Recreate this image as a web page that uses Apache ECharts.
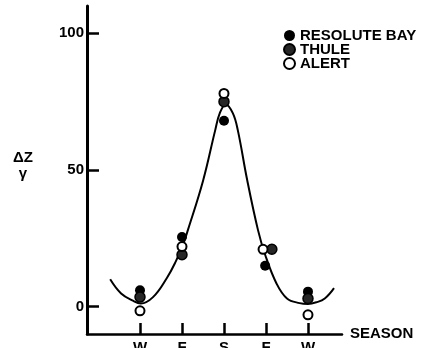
<!DOCTYPE html>
<html>
<head>
<meta charset="utf-8">
<script src="https://cdn.jsdelivr.net/npm/echarts@6/dist/echarts.min.js"></script>
<style>
html,body{margin:0;padding:0;background:#fff;}
#chart{width:421px;height:348px;}
</style>
</head>
<body>
<div id="chart"></div>
<script>
// Season positions and tick labels
var seasonPositions = [0, 1, 2, 3, 4];
var seasonLabels = ['W', 'F', 'S', 'F', 'W'];
var yTickValues = [0, 50, 100];

// Observations [season position, ΔZ/γ]
var resoluteBay = [[0, 6], [1, 25.5], [2, 68], [2.98, 15], [4, 5.5]];
var thule = [[0, 3.5], [1, 19], [2, 75], [3.14, 21], [4, 3]];
var alert = [[0, -1.5], [1, 22], [2, 78], [2.93, 21], [4, -3]];

// Fitted curve, points
var curve = [
  [-0.71, 10], [-0.45, 4.8], [-0.17, 2.2], [0.02, 1.2], [0.31, 3.5],
  [0.64, 10.5], [0.85, 16.5], [1.02, 22.5], [1.14, 28], [1.5, 46],
  [1.79, 64.5], [1.9, 70.8], [2.04, 74], [2.21, 70.8], [2.33, 64.5],
  [2.55, 46.5], [2.81, 28], [2.98, 19], [3.25, 8.5], [3.5, 3],
  [3.8, 1.3], [4.0, 1.0], [4.2, 1.6], [4.4, 3], [4.62, 6.8]
];

var FONT = 'Liberation Sans';
var chart = echarts.init(document.getElementById('chart'), null, {renderer: 'canvas'});
chart.setOption({
  backgroundColor: '#ffffff',
  animation: false,
  textStyle: {fontFamily: FONT, fontWeight: 'bold', color: '#000'},
  grid: {left: 87, right: 79, top: 6, bottom: 14, containLabel: false, outerBoundsMode: 'none'},
  legend: {
    data: ['RESOLUTE BAY', 'THULE', 'ALERT'],
    orient: 'vertical',
    left: 278,
    top: 23,
    itemWidth: 11,
    itemHeight: 11,
    itemGap: -1,
    icon: 'circle',
    textStyle: {fontFamily: FONT, fontWeight: 'bold', fontSize: 15, color: '#000', lineHeight: 13}
  },
  xAxis: {
    type: 'value',
    min: -1.262,
    max: 4.81,
    splitLine: {show: false},
    axisLine: {show: true, onZero: false, lineStyle: {color: '#000', width: 2.5}},
    axisTick: {show: true, inside: true, length: 11, customValues: seasonPositions, lineStyle: {color: '#000', width: 2.5}},
    axisLabel: {
      show: true, margin: 6, customValues: seasonPositions,
      fontFamily: FONT, fontWeight: 'bold', fontSize: 15, color: '#000',
      formatter: function (v) { var i = seasonPositions.indexOf(Math.round(v)); return i >= 0 ? seasonLabels[i] : ''; }
    },
    name: 'SEASON',
    nameLocation: 'end',
    nameGap: 8,
    nameTextStyle: {fontFamily: FONT, fontWeight: 'bold', fontSize: 15, color: '#000', padding: [4, 0, 0, 0]}
  },
  yAxis: {
    type: 'value',
    min: -10,
    max: 110,
    splitLine: {show: false},
    axisLine: {show: true, onZero: false, lineStyle: {color: '#000', width: 3}},
    axisTick: {show: true, inside: true, length: 12, customValues: yTickValues, lineStyle: {color: '#000', width: 2.5}},
    axisLabel: {show: true, margin: 3, customValues: yTickValues, fontFamily: FONT, fontWeight: 'bold', fontSize: 15, color: '#000'},
    name: '{a|ΔZ}\n{a|γ}\n{s| }',
    nameLocation: 'middle',
    nameRotate: 0,
    nameGap: 64,
    nameTextStyle: {
      fontFamily: FONT, fontWeight: 'bold', fontSize: 15, color: '#000', align: 'center',
      rich: {
        a: {fontFamily: FONT, fontWeight: 'bold', fontSize: 15, color: '#000', lineHeight: 16, align: 'center'},
        s: {fontSize: 8, lineHeight: 8}
      }
    }
  },
  series: [
    {
      name: 'curve', type: 'line', data: curve, smooth: 0.4, showSymbol: false, symbol: 'none',
      lineStyle: {color: '#000', width: 2}, z: 1, silent: true
    },
    {
      name: 'RESOLUTE BAY', type: 'scatter', data: resoluteBay, symbol: 'circle', symbolSize: 10,
      itemStyle: {color: '#000', borderColor: '#000', borderWidth: 0, opacity: 1}, z: 3
    },
    {
      name: 'THULE', type: 'scatter', data: thule, symbol: 'circle', symbolSize: 10,
      itemStyle: {color: '#262626', borderColor: '#000', borderWidth: 1.5, opacity: 1}, z: 3
    },
    {
      name: 'ALERT', type: 'scatter', data: alert, symbol: 'circle', symbolSize: 9,
      itemStyle: {color: '#fff', borderColor: '#000', borderWidth: 2, opacity: 1}, z: 4
    }
  ]
});
</script>
</body>
</html>
